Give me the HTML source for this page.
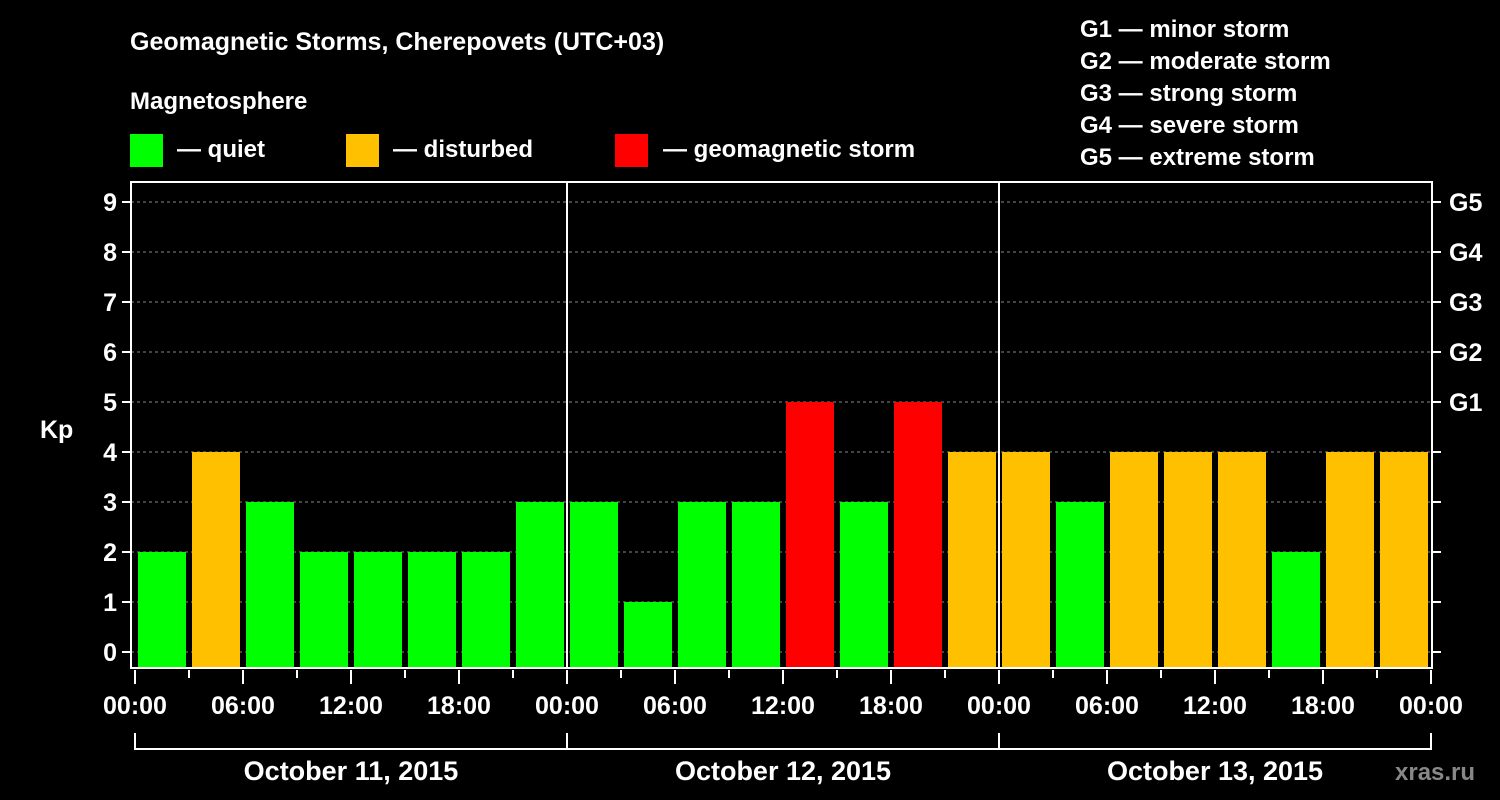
<!DOCTYPE html>
<html><head><meta charset="utf-8"><style>
body{margin:0;background:#000;}
svg{display:block;font-family:"Liberation Sans",sans-serif;font-weight:bold;}
</style></head><body>
<svg id="c" width="1500" height="800" xmlns="http://www.w3.org/2000/svg">
<rect width="1500" height="800" fill="#000"/>
<text x="130" y="50" fill="#fff" font-size="25">Geomagnetic Storms, Cherepovets (UTC+03)</text>
<text x="130" y="109" fill="#fff" font-size="24">Magnetosphere</text>
<rect x="130" y="134" width="33" height="33" fill="#00ff00"/>
<text x="177" y="157" fill="#fff" font-size="24">— quiet</text>
<rect x="346" y="134" width="33" height="33" fill="#ffc000"/>
<text x="393" y="157" fill="#fff" font-size="24">— disturbed</text>
<rect x="615" y="134" width="33" height="33" fill="#ff0000"/>
<text x="663" y="157" fill="#fff" font-size="24">— geomagnetic storm</text>
<g fill="#fff" font-size="24">
<text x="1080" y="37">G1 — minor storm</text>
<text x="1080" y="69">G2 — moderate storm</text>
<text x="1080" y="101">G3 — strong storm</text>
<text x="1080" y="133">G4 — severe storm</text>
<text x="1080" y="165">G5 — extreme storm</text>
</g>
<text x="40" y="438" fill="#fff" font-size="25">Kp</text>
<text x="1395" y="780" fill="#888" font-size="24">xras.ru</text>
<g id="plot"></g>
</svg>
<script>
const kpValues=[2,4,3,2,2,2,2,3, 3,1,3,3,5,3,5,4, 4,3,4,4,4,2,4,4];
const dayLabels=["October 11, 2015","October 12, 2015","October 13, 2015"];
const timeLabels=["00:00","06:00","12:00","18:00"];
const yTicks=[0,1,2,3,4,5,6,7,8,9];
const gLabels=["G1","G2","G3","G4","G5"];
const NS="http://www.w3.org/2000/svg";
const g=document.getElementById('plot');
const X0=135,DAY=432,L=131,R=1432,T=182,B=668;
const xs=h=>X0+h*DAY/24;
const ys=v=>652-50*v;
function mk(t,a,p){const e=document.createElementNS(NS,t);for(const k in a)e.setAttribute(k,a[k]);(p||g).appendChild(e);return e;}
yTicks.forEach(v=>{
 const l=mk('line',{x1:L,x2:R,y1:ys(v),y2:ys(v),stroke:'#888','stroke-dasharray':'3,3','stroke-width':1});
 
 
 mk('line',{x1:L-9,x2:L,y1:ys(v),y2:ys(v),stroke:'#fff','stroke-width':2});
 mk('line',{x1:R,x2:R+9,y1:ys(v),y2:ys(v),stroke:'#fff','stroke-width':2});
 const t=mk('text',{x:L-14,y:ys(v)+9,fill:'#fff','font-size':25,'text-anchor':'end'});t.textContent=v;
 
 
});
gLabels.forEach((s,i)=>{
 const t=mk('text',{x:1449,y:ys(5+i)+9,fill:'#fff','font-size':25});t.textContent=s;
 
 
});
kpValues.forEach((v,i)=>{
 const c=v>=5?'#ff0000':(v>=4?'#ffc000':'#00ff00');
 const r=mk('rect',{x:xs(i*3)+3,y:ys(v),width:48,height:B-ys(v),fill:c});
 
 
});
[1,2].forEach(d=>mk('line',{x1:xs(24*d),x2:xs(24*d),y1:T,y2:B,stroke:'#fff','stroke-width':2}));
const fr=mk('rect',{x:L,y:T,width:R-L,height:B-T,fill:'none',stroke:'#fff','stroke-width':2});


for(let h=0;h<=72;h+=3){
 const major=h%6===0;
 mk('line',{x1:xs(h),x2:xs(h),y1:B+2,y2:B+(major?16:10),stroke:'#fff','stroke-width':2});
 if(major){const t=mk('text',{x:xs(h),y:714,fill:'#fff','font-size':25,'text-anchor':'middle'});t.textContent=timeLabels[(h/6)%4];
 
 }
}
mk('line',{x1:xs(0),x2:xs(72),y1:749,y2:749,stroke:'#fff','stroke-width':2});
for(let d=0;d<=3;d++)mk('line',{x1:xs(24*d),x2:xs(24*d),y1:733,y2:750,stroke:'#fff','stroke-width':2});
dayLabels.forEach((s,d)=>{
 const t=mk('text',{x:xs(24*d+12),y:780,fill:'#fff','font-size':27,'text-anchor':'middle'});t.textContent=s;
 
 
});
</script>
</body></html>
